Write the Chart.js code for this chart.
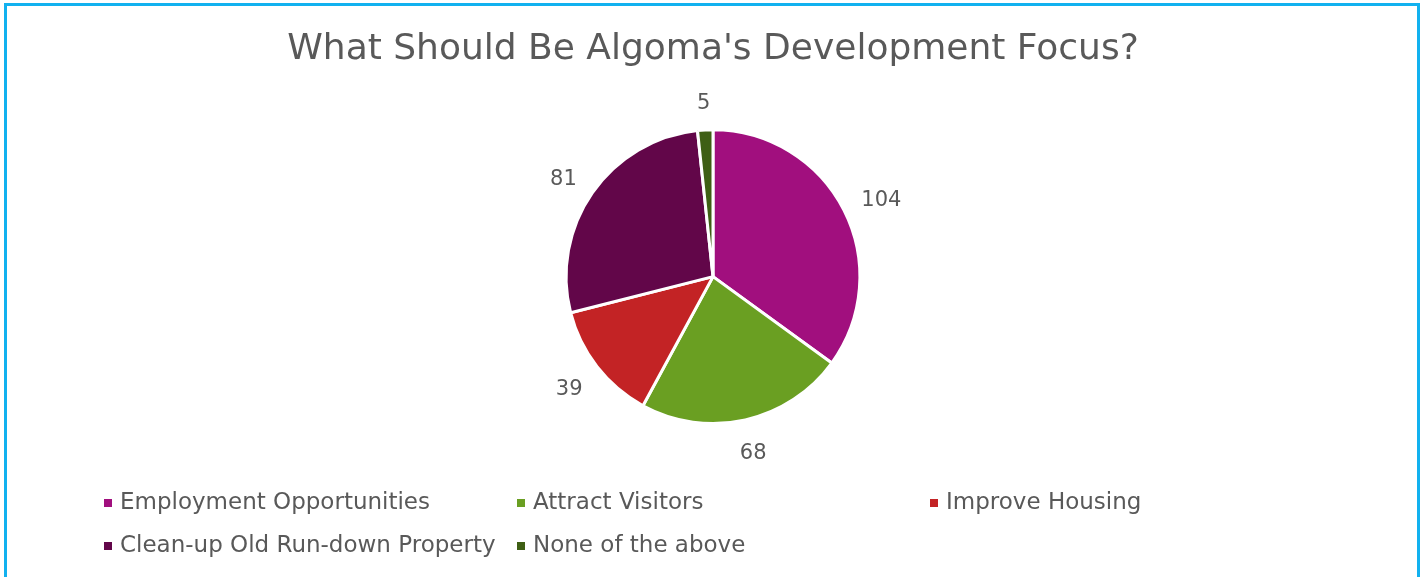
<!DOCTYPE html>
<html>
<head>
<meta charset="utf-8">
<script src="https://cdn.jsdelivr.net/npm/chart.js@4"></script>
<style>
  html, body { margin: 0; padding: 0; background: #fff; overflow: hidden; }
  #frame {
    position: absolute; left: 4px; top: 3px; width: 1410px; height: 600px;
    border: 3px solid #12B1EF;
  }
  #wrap { position: absolute; left: 0; top: 0; width: 1420px; height: 577px; }
</style>
</head>
<body>
<div id="frame"></div>
<div id="wrap"><canvas id="focusChart" width="1420" height="577"></canvas></div>
<script>
const categories = ['Employment Opportunities', 'Attract Visitors', 'Improve Housing',
  'Clean-up Old Run-down Property', 'None of the above'];
const responses = [104, 68, 39, 81, 5];
const sliceColors = ['#A10F7E', '#6A9F22', '#C32325', '#620649', '#3E5F14'];

const FONT = "'DejaVu Sans', sans-serif";
const TEXT = '#595959';

// value printed just outside each slice; the text box is pushed out so its
// nearest edge sits a fixed gap from the rim
const outsideLabels = {
  id: 'outsideLabels',
  afterDatasetsDraw(chart) {
    const ctx = chart.ctx;
    const meta = chart.getDatasetMeta(0);
    ctx.save();
    ctx.font = '21px ' + FONT;
    ctx.fillStyle = TEXT;
    ctx.textAlign = 'center';
    ctx.textBaseline = 'middle';
    meta.data.forEach((arc, i) => {
      const p = arc.getProps(['x', 'y', 'startAngle', 'endAngle', 'outerRadius'], true);
      const mid = (p.startAngle + p.endAngle) / 2;
      const text = String(responses[i]);
      const w = ctx.measureText(text).width;
      const d = p.outerRadius + 18;
      const cx = p.x + Math.cos(mid) * (d + w / 2 + 4);
      const cy = p.y + Math.sin(mid) * (d + 12) + 4;
      ctx.fillText(text, cx, cy);
    });
    ctx.restore();
  }
};

// three-column legend under the pie
const gridLegend = {
  id: 'gridLegend',
  afterDraw(chart) {
    const ctx = chart.ctx;
    ctx.save();
    ctx.font = '23px ' + FONT;
    ctx.textBaseline = 'middle';
    ctx.textAlign = 'left';
    categories.forEach((name, i) => {
      const col = i % 3, row = Math.floor(i / 3);
      const x = 104 + col * 413;
      const y = 503 + row * 43;
      ctx.fillStyle = sliceColors[i];
      ctx.fillRect(x, y - 4, 8, 8);
      ctx.fillStyle = TEXT;
      ctx.fillText(name, x + 16, y);
    });
    ctx.restore();
  }
};

new Chart(document.getElementById('focusChart'), {
  type: 'pie',
  data: {
    labels: categories,
    datasets: [{
      data: responses,
      backgroundColor: sliceColors,
      borderColor: '#ffffff',
      borderWidth: 3,
      hoverOffset: 0
    }]
  },
  options: {
    responsive: false,
    animation: false,
    layout: { padding: { top: 0, bottom: 152, left: 6, right: 0 } },
    plugins: {
      legend: { display: false },
      tooltip: { enabled: false },
      title: {
        display: true,
        text: "What Should Be Algoma's Development Focus?",
        color: TEXT,
        font: { family: FONT, size: 36, weight: 'normal' },
        padding: { top: 28, bottom: 57 }
      }
    }
  },
  plugins: [outsideLabels, gridLegend]
});
</script>
</body>
</html>
